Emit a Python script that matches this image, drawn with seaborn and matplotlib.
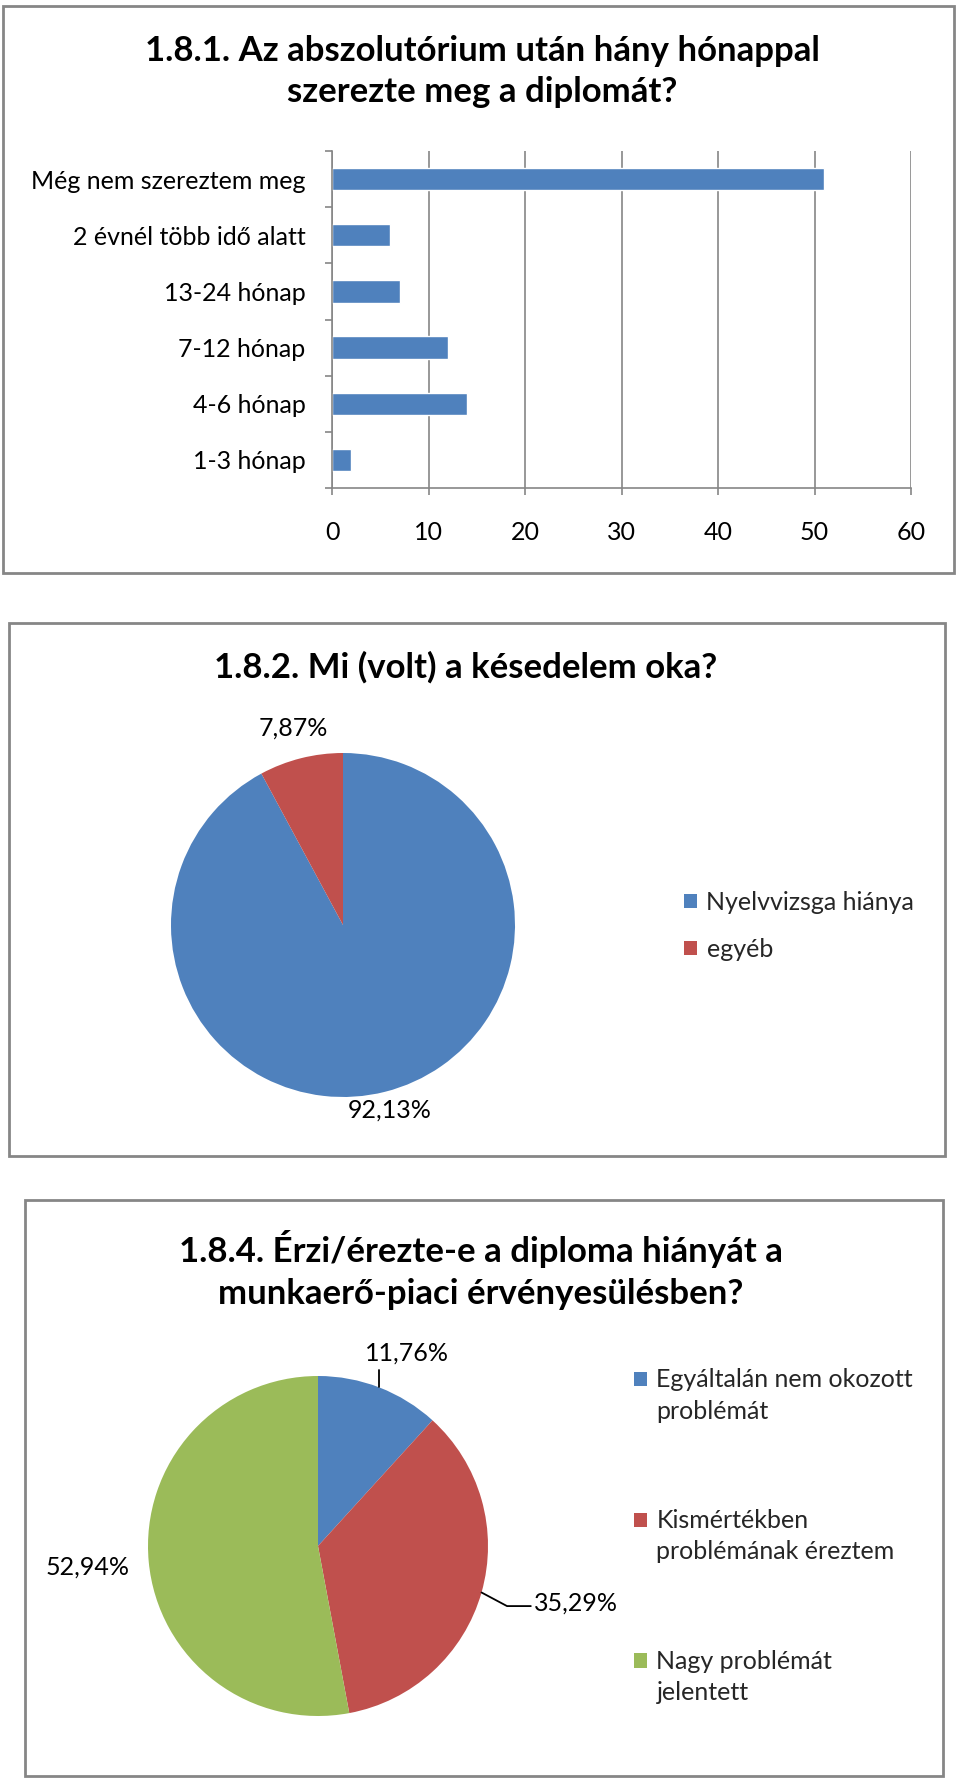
import matplotlib
matplotlib.use("Agg")
import matplotlib.pyplot as plt
import seaborn as sns
import numpy as np
import pandas as pd
from matplotlib.patches import Rectangle

# ---------------- data ----------------
bar_categories = ["Még nem szereztem meg", "2 évnél több idő alatt", "13-24 hónap",
                  "7-12 hónap", "4-6 hónap", "1-3 hónap"]
bar_values = [51, 6, 7, 12, 14, 2]
bar_ticks = [0, 10, 20, 30, 40, 50, 60]

pie2_labels = ["Nyelvvizsga hiánya", "egyéb"]
pie2_values = [92.13, 7.87]

pie3_labels = ["Egyáltalán nem okozott\nproblémát", "Kismértékben\nproblémának éreztem",
               "Nagy problémát\njelentett"]
pie3_values = [11.76, 35.29, 52.94]

title1 = ["1.8.1. Az abszolutórium után hány hónappal", "szerezte meg a diplomát?"]
title2 = ["1.8.2. Mi (volt) a késedelem oka?"]
title3 = ["1.8.4. Érzi/érezte-e a diploma hiányát a", "munkaerő-piaci érvényesülésben?"]

BLUE, RED, GREEN, GRAY = "#4F81BD", "#C0504D", "#9BBB59", "#868686"

sns.set_theme(style="white")
plt.rcParams['font.family'] = ['Lato', 'DejaVu Sans']

W, H = 960, 1780
fig = plt.figure(figsize=(9.6, 17.8), dpi=100)
fig.patch.set_facecolor("white")

TITLE_FS = 25
LABEL_FS = 18


def box(x0, y0, x1, y1):
    return [x0 / W, 1 - y1 / H, (x1 - x0) / W, (y1 - y0) / H]


def fmt(p):
    return f"{p:.2f}%".replace(".", ",")


# panel borders
for (x0, y0, x1, y1) in [(3, 6, 954, 573), (9, 623, 945, 1156), (25, 1200, 943, 1776)]:
    fig.patches.append(Rectangle((x0 / W, 1 - y1 / H), (x1 - x0) / W, (y1 - y0) / H,
                                 transform=fig.transFigure, fill=False,
                                 edgecolor=GRAY, lw=2))

# titles
for lines, cx, ys in [(title1, 482, [51, 92]), (title2, 466, [667]), (title3, 481, [1249, 1294])]:
    for t, y in zip(lines, ys):
        fig.text(cx / W, 1 - y / H, t, ha="center", va="center",
                 fontsize=TITLE_FS, fontweight="bold", color="black")

# ---------------- bar chart ----------------
ax1 = fig.add_axes(box(332, 151, 911, 488))
df1 = pd.DataFrame({"cat": bar_categories, "val": bar_values})
sns.barplot(data=df1, x="val", y="cat", orient="h", color=BLUE, saturation=1,
            width=0.4, ax=ax1)
n = len(bar_categories)
ax1.set_xlim(0, 60)
ax1.set_ylim(n - 0.5, -0.5)
ax1.set_xticks(bar_ticks)
ax1.set_xlabel("")
ax1.set_ylabel("")
ax1.xaxis.grid(True, color=GRAY, lw=1.2)
ax1.yaxis.grid(False)
ax1.set_axisbelow(True)
for s in ["top", "right"]:
    ax1.spines[s].set_visible(False)
for s in ["left", "bottom"]:
    ax1.spines[s].set_color(GRAY)
    ax1.spines[s].set_linewidth(1.2)
ax1.set_yticks(np.arange(-0.5, n + 0.5, 1), minor=True)
ax1.tick_params(axis="y", which="major", left=False, length=0, pad=19,
                labelsize=LABEL_FS, labelcolor="black")
ax1.tick_params(axis="y", which="minor", left=True, length=5, width=1.2,
                color=GRAY, direction="out")
ax1.tick_params(axis="x", which="major", bottom=True, length=5, width=1.2,
                color=GRAY, direction="out", pad=19, labelsize=LABEL_FS,
                labelcolor="black")

# ---------------- pie 2 ----------------
cx2, cy2, r2 = 343, 925, 172
ax2 = fig.add_axes(box(cx2 - r2, cy2 - r2, cx2 + r2, cy2 + r2))
w2, _ = ax2.pie(pie2_values, colors=[BLUE, RED], startangle=90, counterclock=False,
                wedgeprops=dict(linewidth=0))
ax2.set_xlim(-1, 1)
ax2.set_ylim(-1, 1)
ax2.set_aspect("equal")
ax2.axis("off")
for w, v, d in zip(w2, pie2_values, [1.11, 1.18]):
    a = np.deg2rad((w.theta1 + w.theta2) / 2)
    ax2.text(d * np.cos(a), d * np.sin(a), fmt(v), ha="center",
             va="center", fontsize=LABEL_FS, color="black")

leg2 = fig.legend(w2, pie2_labels, loc="upper left", bbox_to_anchor=(684 / W, 1 - 891 / H),
                  frameon=False, fontsize=LABEL_FS, handlelength=0.5, handleheight=0.5,
                  handletextpad=0.4, labelspacing=0.95, borderpad=0, borderaxespad=0)

# ---------------- pie 3 ----------------
cx3, cy3, r3 = 318, 1546, 170
ax3 = fig.add_axes(box(cx3 - r3, cy3 - r3, cx3 + r3, cy3 + r3))
w3, _ = ax3.pie(pie3_values, colors=[BLUE, RED, GREEN], startangle=90, counterclock=False,
                wedgeprops=dict(linewidth=0))
ax3.set_xlim(-1, 1)
ax3.set_ylim(-1, 1)
ax3.set_aspect("equal")
ax3.axis("off")
mids = [np.deg2rad((w.theta1 + w.theta2) / 2) for w in w3]
p = [(np.cos(a), np.sin(a)) for a in mids]
# slice 1: vertical leader line upward
x0, y0 = p[0]
ax3.plot([x0, x0], [y0, y0 + 0.10], color="black", lw=1.3, clip_on=False)
ax3.text(x0 + 0.16, y0 + 0.20, fmt(pie3_values[0]), ha="center", va="center",
         fontsize=LABEL_FS, color="black")
# slice 2: bent leader line to the right
x0, y0 = p[1]
ax3.plot([x0, x0 + 0.15, x0 + 0.29], [y0, y0 - 0.08, y0 - 0.08], color="black", lw=1.3,
         clip_on=False)
ax3.text(x0 + 0.31, y0 - 0.065, fmt(pie3_values[1]), ha="left", va="center",
         fontsize=LABEL_FS, color="black")
# slice 3: plain label
x0, y0 = p[2]
ax3.text(1.36 * x0, 1.36 * y0, fmt(pie3_values[2]), ha="center", va="center",
         fontsize=LABEL_FS, color="black")

leg3 = fig.legend(w3, pie3_labels, loc="upper left", bbox_to_anchor=(634 / W, 1 - 1368 / H),
                  frameon=False, fontsize=LABEL_FS, handlelength=0.5, handleheight=0.5,
                  handletextpad=0.4, labelspacing=3.45, borderpad=0, borderaxespad=0)
for t in leg3.get_texts():
    t.set_linespacing(1.45)
# move the colour squares up to the first text line (as in the original)
for h in leg3.legend_handles:
    h.set_y(h.get_y() + 0.68 * LABEL_FS)

fig.savefig("out.png", dpi=100, facecolor="white")
